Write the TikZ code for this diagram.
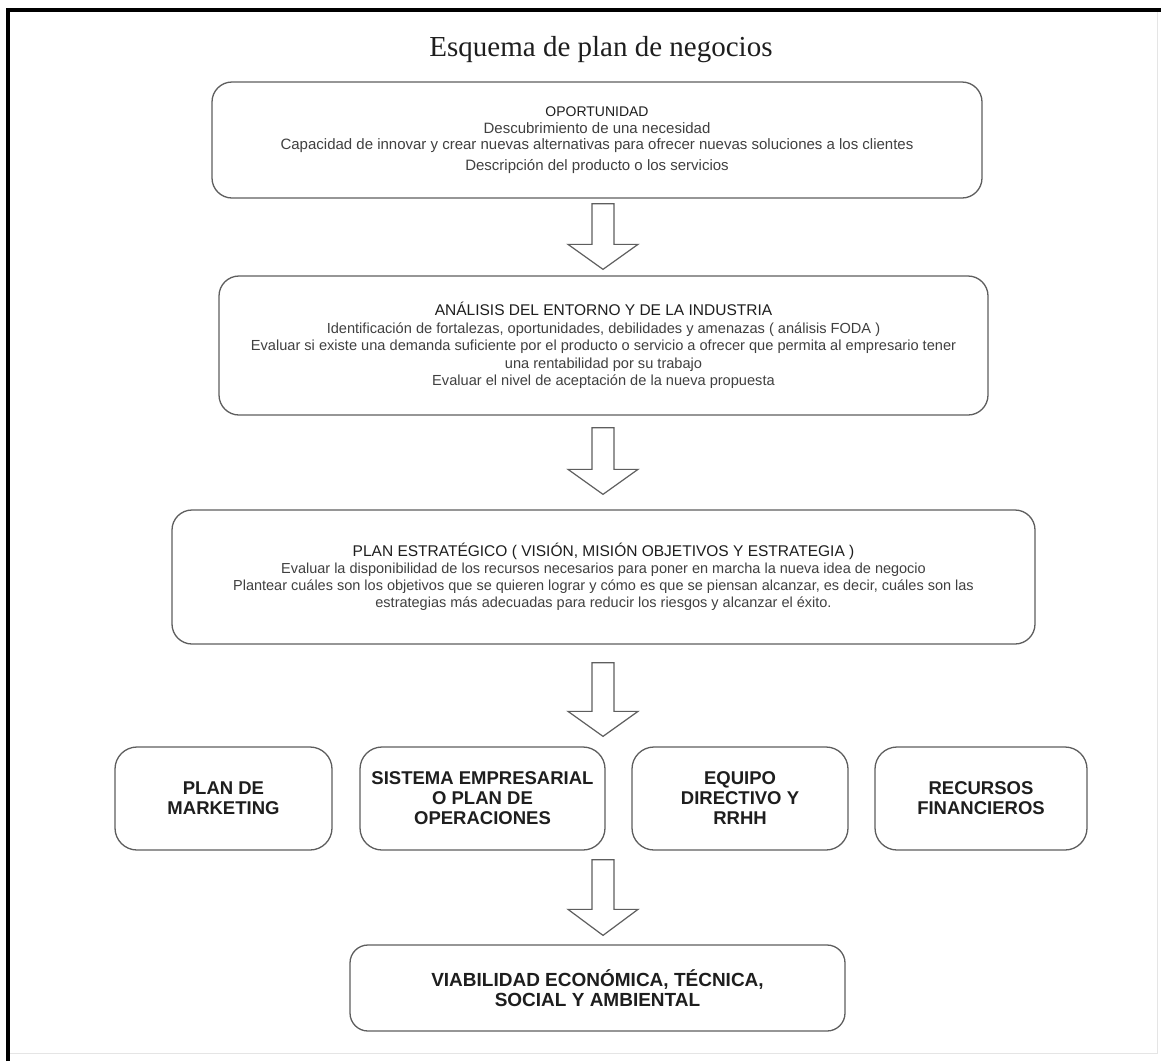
\documentclass[tikz,border=0pt]{standalone}
\usepackage{fontspec}
\setmainfont{Liberation Sans}
\newfontfamily\titlefont{Liberation Serif}
\usetikzlibrary{calc}
\definecolor{txt}{HTML}{404040}
\definecolor{head}{HTML}{1E1E1E}
\definecolor{edge}{HTML}{5E5E5E}

% block arrow from box #1 to box #2, leaving gaps #3 (top) and #4 (bottom), head length #5
\newcommand{\blockarrow}[5]{%
  \path (col |- #1.south) ++(0,#3) coordinate (as)
        (col |- #2.north) ++(0,-#4) coordinate (at);
  \draw[arrowline] ($(as)+(-11,0)$) -- ($(as)+(11,0)$) -- ($(at)+(11,-#5)$)
    -- ($(at)+(35,-#5)$) -- (at) -- ($(at)+(-35,-#5)$) -- ($(at)+(-11,-#5)$) -- cycle;}

\begin{document}
\begin{tikzpicture}[x=1pt,y=-1pt,
  box/.style={draw=edge, line width=1.3pt, rounded corners=20pt, fill=white,
    align=center, text=txt, inner sep=0pt},
  rowbox/.style={box, minimum height=103pt, rounded corners=22pt,
    font=\fontsize{18.5}{20}\selectfont\bfseries, text=head},
  arrowline/.style={draw=edge, line width=1.2pt, fill=white, line join=miter}]
\useasboundingbox (0,0) rectangle (1161,1061);
\fill[white] (0,0) rectangle (1161,1061);

% page frame
\draw[black!10, line width=1pt] (9,1053) -- (1157,1053) -- (1157,10);
\draw[black, line width=4pt] (8,1061) -- (8,10) -- (1161,10);

\coordinate (col) at (603,0);

% title
\node[font=\titlefont\fontsize{29}{32}\selectfont, text=head] (title) at (601,50)
  {Esquema de plan de negocios};

% main stages
\node[box, minimum width=770pt, minimum height=116pt,
  font=\fontsize{15}{16.5}\selectfont] (b1) at (597,140)
  {{\fontsize{14}{16.5}\selectfont\color{head}OPORTUNIDAD}\\
   Descubrimiento de una necesidad\\
   Capacidad de innovar y crear nuevas alternativas para ofrecer nuevas soluciones a los clientes\\[4pt]
   Descripción del producto o los servicios};

\node[box, minimum width=769pt, minimum height=139pt,
  font=\fontsize{14.6}{17.5}\selectfont] (b2) at (603.5,345.5)
  {{\fontsize{15.5}{17.5}\selectfont\color{head}ANÁLISIS DEL ENTORNO Y DE LA INDUSTRIA}\\
   Identificación de fortalezas, oportunidades, debilidades y amenazas ( análisis FODA )\\
   Evaluar si existe una demanda suficiente por el producto o servicio a ofrecer que permita al empresario tener\\
   una rentabilidad por su trabajo\\
   Evaluar el nivel de aceptación de la nueva propuesta};

\node[box, minimum width=863pt, minimum height=134pt,
  font=\fontsize{14.5}{17}\selectfont] (b3) at (603.5,577)
  {{\fontsize{15.5}{17}\selectfont\color{head}PLAN ESTRATÉGICO ( VISIÓN, MISIÓN OBJETIVOS Y ESTRATEGIA )}\\
   Evaluar la disponibilidad de los recursos necesarios para poner en marcha la nueva idea de negocio\\
   Plantear cuáles son los objetivos que se quieren lograr y cómo es que se piensan alcanzar, es decir, cuáles son las\\
   estrategias más adecuadas para reducir los riesgos y alcanzar el éxito.};

% areas of the plan
\node[rowbox, minimum width=217pt] (r1) at (223.5,798.5) {PLAN DE\\MARKETING};
\node[rowbox, minimum width=245pt] (r2) at (482.5,798.5) {SISTEMA EMPRESARIAL\\O PLAN DE\\OPERACIONES};
\node[rowbox, minimum width=216pt] (r3) at (740,798.5) {EQUIPO\\DIRECTIVO Y\\RRHH};
\node[rowbox, minimum width=212pt] (r4) at (981,798.5) {RECURSOS\\FINANCIEROS};

% final assessment
\node[box, minimum width=495pt, minimum height=86pt, rounded corners=18pt,
  font=\fontsize{19}{20.5}\selectfont\bfseries, text=head] (b5) at (597.5,988)
  {VIABILIDAD ECONÓMICA, TÉCNICA,\\SOCIAL Y AMBIENTAL};

% flow arrows
\blockarrow{b1}{b2}{5}{6}{25}
\blockarrow{b2}{b3}{12}{15}{25}
\blockarrow{b3}{r2}{18}{10}{25}
\blockarrow{r2}{b5}{9}{9}{26}
\end{tikzpicture}
\end{document}
